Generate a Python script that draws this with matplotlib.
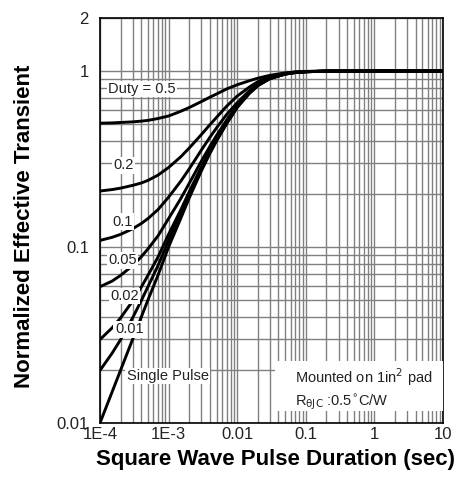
import matplotlib
matplotlib.use("Agg")
import matplotlib.pyplot as plt
import matplotlib.ticker as mticker
from matplotlib.patches import Rectangle

plt.rcParams['font.family'] = ['Liberation Sans', 'DejaVu Sans']

# pulse duration (sec)
t = [1e-4, 1.5e-4, 2e-4, 3e-4, 4e-4, 5e-4, 7e-4, 1e-3, 1.5e-3, 2e-3, 3e-3, 4e-3,
     5e-3, 7e-3, 1e-2, 1.5e-2, 2e-2, 3e-2, 5e-2, 7e-2, 0.1, 0.2, 1, 10]

# normalized effective transient thermal impedance per duty cycle
z_d50 = [0.505, 0.507, 0.51, 0.514, 0.519, 0.524, 0.537, 0.555, 0.59, 0.62, 0.67, 0.71,
         0.74, 0.79, 0.835, 0.88, 0.91, 0.945, 0.975, 0.988, 0.995, 0.999, 1.0, 1.0]
z_d20 = [0.208, 0.212, 0.216, 0.224, 0.231, 0.239, 0.256, 0.283, 0.325, 0.365, 0.435, 0.495,
         0.545, 0.63, 0.72, 0.81, 0.87, 0.93, 0.97, 0.985, 0.993, 0.999, 1.0, 1.0]
z_d10 = [0.109, 0.1135, 0.118, 0.127, 0.136, 0.145, 0.163, 0.192, 0.236, 0.278, 0.355, 0.42,
         0.475, 0.565, 0.66, 0.772, 0.845, 0.915, 0.964, 0.982, 0.991, 0.998, 1.0, 1.0]
z_d05 = [0.0595, 0.064, 0.069, 0.0785, 0.088, 0.0975, 0.1156, 0.145, 0.188, 0.23, 0.307, 0.373,
         0.43, 0.525, 0.639, 0.758, 0.834, 0.91, 0.962, 0.981, 0.9905, 0.998, 1.0, 1.0]
z_d02 = [0.0298, 0.0347, 0.0396, 0.0494, 0.0592, 0.069, 0.0876, 0.118, 0.162, 0.206, 0.285, 0.353,
         0.412, 0.51, 0.628, 0.75, 0.829, 0.907, 0.961, 0.980, 0.990, 0.998, 1.0, 1.0]
z_d01 = [0.0199, 0.0249, 0.0298, 0.0397, 0.0496, 0.0595, 0.0783, 0.109, 0.154, 0.198, 0.277, 0.347,
         0.406, 0.505, 0.624, 0.748, 0.827, 0.906, 0.960, 0.980, 0.990, 0.998, 1.0, 1.0]
z_single = [0.010, 0.015, 0.020, 0.030, 0.040, 0.050, 0.069, 0.10, 0.145, 0.19, 0.27, 0.34,
            0.40, 0.50, 0.62, 0.745, 0.825, 0.905, 0.96, 0.98, 0.99, 0.998, 1.0, 1.0]

curves = [z_d50, z_d20, z_d10, z_d05, z_d02, z_d01, z_single]

# curve labels: text, t, z
labels = [
    ('Duty = 0.5', 1.31e-4, 0.79),
    ('0.2', 1.55e-4, 0.292),
    ('0.1', 1.5e-4, 0.139),
    ('0.05', 1.31e-4, 0.084),
    ('0.02', 1.4e-4, 0.0527),
    ('0.01', 1.65e-4, 0.0341),
    ('Single Pulse', 2.47e-4, 0.0185),
]

x_ticks = [1e-4, 1e-3, 1e-2, 1e-1, 1, 10]
x_ticklabels = ['1E-4', '1E-3', '0.01', '0.1', '1', '10']
y_ticks = [0.01, 0.1, 1, 2]
y_ticklabels = ['0.01', '0.1', '1', '2']

fig = plt.figure(figsize=(4.64, 4.79), dpi=100)
ax = fig.add_axes([0.2155, 0.1169, 0.7392, 0.8455])
ax.set_xscale('log')
ax.set_yscale('log')
ax.set_xlim(1e-4, 10)
ax.set_ylim(0.01, 2)

for z in curves:
    ax.plot(t, z, color='black', lw=2.1, zorder=3, solid_capstyle='butt')

ax.xaxis.set_minor_locator(mticker.LogLocator(base=10, subs=range(2, 10), numticks=20))
ax.yaxis.set_minor_locator(mticker.LogLocator(base=10, subs=range(2, 10), numticks=20))
ax.xaxis.set_minor_formatter(mticker.NullFormatter())
ax.yaxis.set_minor_formatter(mticker.NullFormatter())
ax.set_xticks(x_ticks)
ax.set_xticklabels(x_ticklabels)
ax.set_yticks(y_ticks)
ax.set_yticklabels(y_ticklabels)
ax.tick_params(which='both', length=0)
ax.tick_params(axis='x', pad=3, labelsize=12, colors='#222222')
ax.tick_params(axis='y', pad=8, labelsize=12, colors='#222222')

ax.set_axisbelow(True)
ax.grid(True, which='both', color='#808080', lw=1.0)
for s in ax.spines.values():
    s.set_linewidth(1.2)

for txt, tx, ty in labels:
    ax.text(tx, ty, txt, fontsize=10.5, ha='left', va='center', color='#222222', zorder=5,
            bbox=dict(facecolor='white', edgecolor='none', pad=1))

# note box in lower right
ax.add_patch(Rectangle((0.0356, 0.0117), 10 - 0.0356, 0.0226 - 0.0117,
                       facecolor='white', edgecolor='none', zorder=4))
ax.text(0.0697, 0.0183, 'Mounted on 1in$^2$ pad', fontsize=10.5, ha='left', va='center',
        color='#222222', zorder=5)
ax.text(0.0697, 0.0132, r'R$_{\mathrm{\theta JC}}$ :0.5$^{\circ}$C/W', fontsize=10.5, ha='left',
        va='center', color='#222222', zorder=5)

ax.set_xlabel('Square Wave Pulse Duration (sec)', fontsize=16, fontweight='bold')
ax.set_ylabel('Normalized Effective Transient', fontsize=16, fontweight='bold')
ax.xaxis.set_label_coords(0.513, -0.064)
ax.yaxis.set_label_coords(-0.19, 0.486)

fig.savefig('out.png', dpi=100)
